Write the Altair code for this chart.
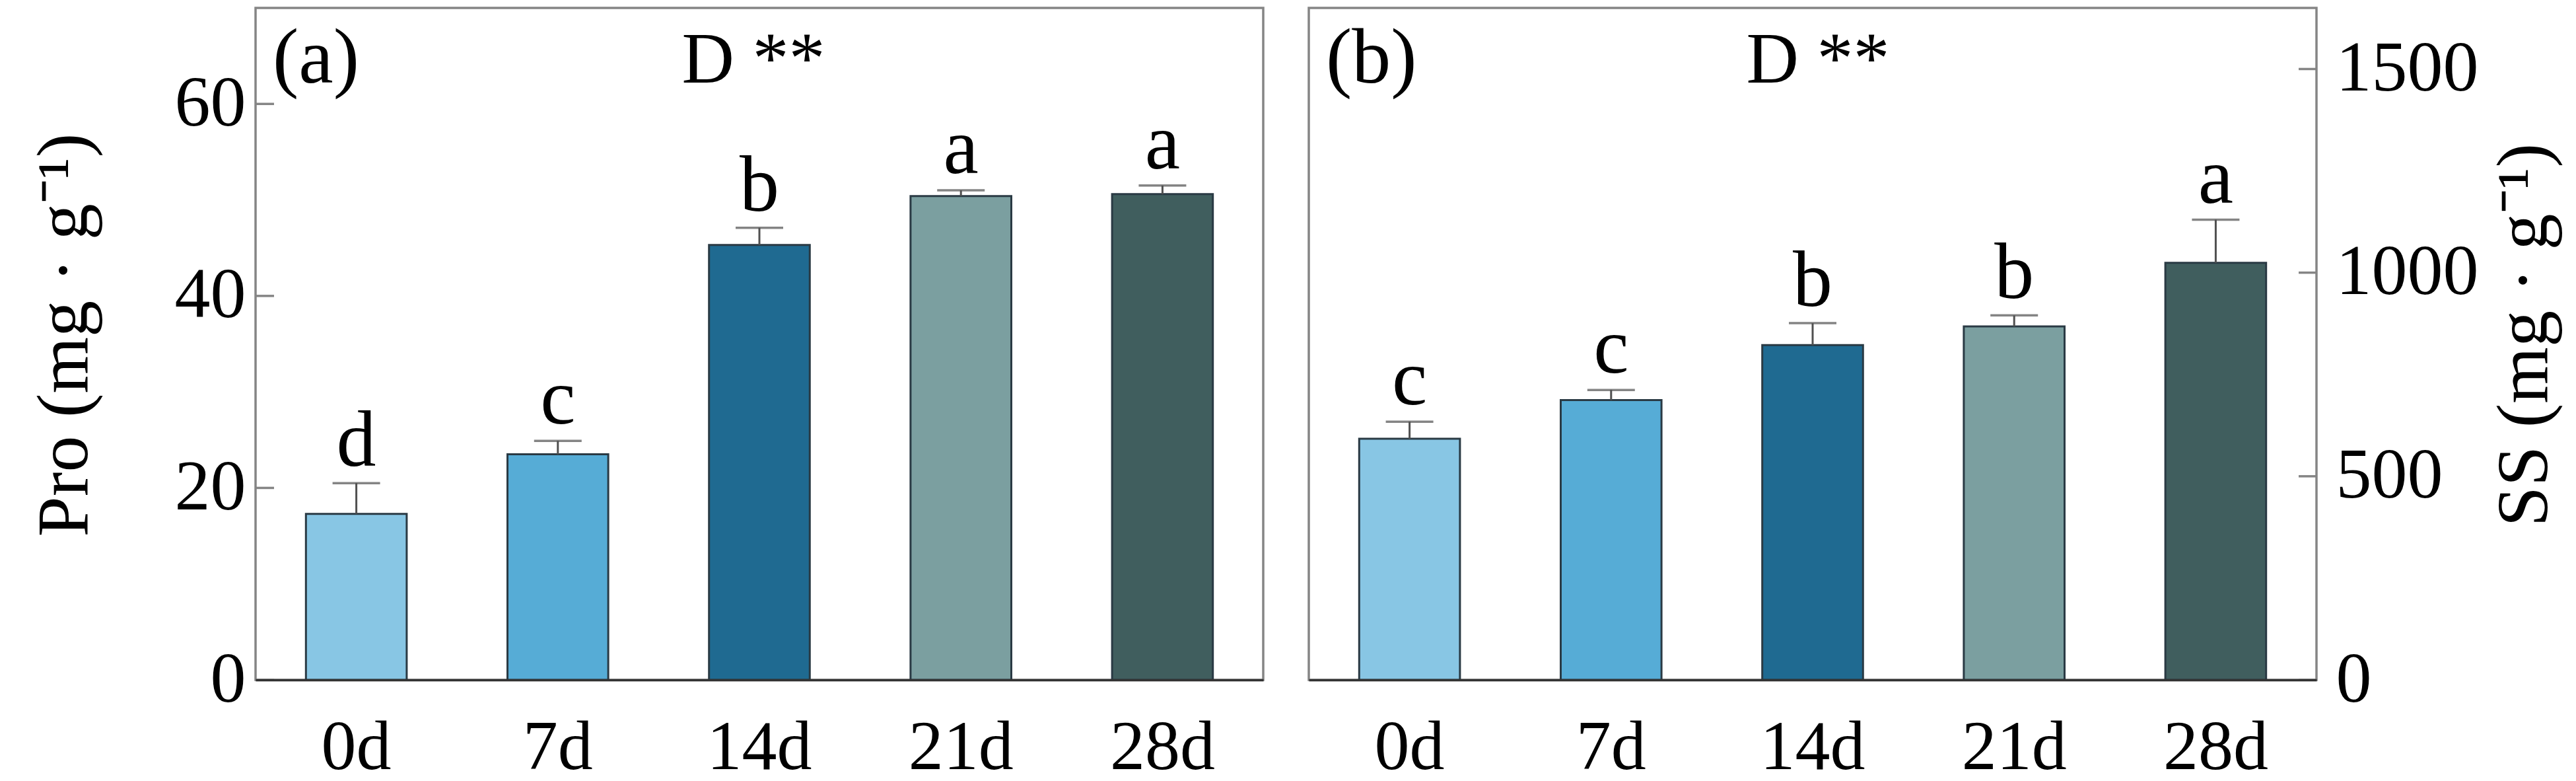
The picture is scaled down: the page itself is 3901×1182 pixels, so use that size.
import altair as alt
import pandas as pd

# ---- data ----
days = ["0d", "7d", "14d", "21d", "28d"]
bar_colors = ["#88C6E4", "#56ACD6", "#1F6A91", "#7B9FA0", "#405E5E"]

pro_mean = [17.3, 23.5, 45.3, 50.4, 50.6]
pro_err = [3.2, 1.4, 1.8, 0.6, 0.9]
pro_letters = ["d", "c", "b", "a", "a"]
pro_ticks = [0, 20, 40, 60]

ss_mean = [592, 687, 822, 868, 1024]
ss_err = [42, 25, 54, 27, 106]
ss_letters = ["c", "c", "b", "b", "a"]
ss_ticks = [0, 500, 1000, 1500]

FONT = "Liberation Serif"
W, H = 1526, 1017
FRAME = "#858585"


def panel(mean, err, letters, ticks, ymax, title, orient, tag, sig_x):
    df = pd.DataFrame({
        "day": days,
        "mean": mean,
        "upper": [m + e for m, e in zip(mean, err)],
        "letter": letters,
        "color": bar_colors,
    })
    xenc = alt.X(
        "day:N", sort=days,
        scale=alt.Scale(paddingInner=0.5, paddingOuter=0.25),
        axis=alt.Axis(title=None, labelAngle=0, ticks=False, labelFont=FONT,
                      labelFontSize=106, labelColor="black", labelPadding=50,
                      domainColor="#333333", domainWidth=3.5, zindex=1),
    )
    yscale = alt.Scale(domain=[0, ymax], nice=False, zero=True)
    if orient == "left":
        yaxis = alt.Axis(orient="left", values=ticks, ticks=False, grid=False, domain=False,
                         labelFont=FONT, labelFontSize=108, labelColor="black", labelPadding=15,
                         labelLimit=0, format="d", title=None)
        tx0, tx1 = 0, 28
        title_x = -288
    else:
        yaxis = alt.Axis(orient="right", values=ticks, ticks=False, grid=False, domain=False,
                         labelFont=FONT, labelFontSize=108, labelColor="black", labelPadding=29,
                         labelLimit=0, format="d", title=None)
        tx0, tx1 = W - 27, W
        title_x = W + 316

    base = alt.Chart(df)
    bars = base.mark_bar(stroke="#2a3a44", strokeWidth=3).encode(
        x=xenc,
        y=alt.Y("mean:Q", scale=yscale, axis=yaxis, title=None),
        color=alt.Color("color:N", scale=None),
    )
    stem = base.mark_rule(color="#505050", strokeWidth=3).encode(
        x=xenc,
        y=alt.Y("mean:Q", scale=yscale, axis=yaxis, title=None),
        y2="upper:Q",
    )
    cap = base.mark_tick(color="#505050", thickness=3.5, size=72, orient="horizontal").encode(
        x=xenc,
        y=alt.Y("upper:Q", scale=yscale, axis=yaxis, title=None),
    )
    lett = base.mark_text(font=FONT, fontSize=120, baseline="alphabetic", dy=-26,
                          color="black").encode(
        x=xenc,
        y=alt.Y("upper:Q", scale=yscale, axis=yaxis, title=None),
        text="letter:N",
    )
    inner = alt.Chart(pd.DataFrame({"t": ticks})).mark_rule(color=FRAME, strokeWidth=3.5).encode(
        y=alt.Y("t:Q", scale=yscale, axis=yaxis, title=None),
        x=alt.value(tx0), x2=alt.value(tx1),
    )
    tagm = alt.Chart(pd.DataFrame({"txt": [tag]})).mark_text(
        font=FONT, fontSize=118, align="left", baseline="alphabetic", color="black"
    ).encode(x=alt.value(26), y=alt.value(113), text="txt:N")
    sig = alt.Chart(pd.DataFrame({"txt": ["D **"]})).mark_text(
        font=FONT, fontSize=110, align="center", baseline="alphabetic", color="black"
    ).encode(x=alt.value(sig_x), y=alt.value(113), text="txt:N")
    ytitle = alt.Chart(pd.DataFrame({"txt": [title]})).mark_text(
        font=FONT, fontSize=110, angle=270, align="center", baseline="middle", color="black"
    ).encode(x=alt.value(title_x), y=alt.value(495), text="txt:N")

    return alt.layer(bars, stem, cap, lett, inner, tagm, sig, ytitle).properties(width=W, height=H)


pa = panel(pro_mean, pro_err, pro_letters, pro_ticks, 70, "Pro (mg · g⁻¹)", "left", "(a)", 754)
pb = panel(ss_mean, ss_err, ss_letters, ss_ticks, 1650, "SS (mg · g⁻¹)", "right", "(b)", 771)

chart = alt.hconcat(pa, pb, spacing=65).properties(
    padding={"left": 34, "top": 2, "right": 0, "bottom": 0}
).configure(font=FONT).configure_view(stroke=FRAME, strokeWidth=3.5)

chart.save("out.html", embed_options={"renderer": "svg", "actions": False})
